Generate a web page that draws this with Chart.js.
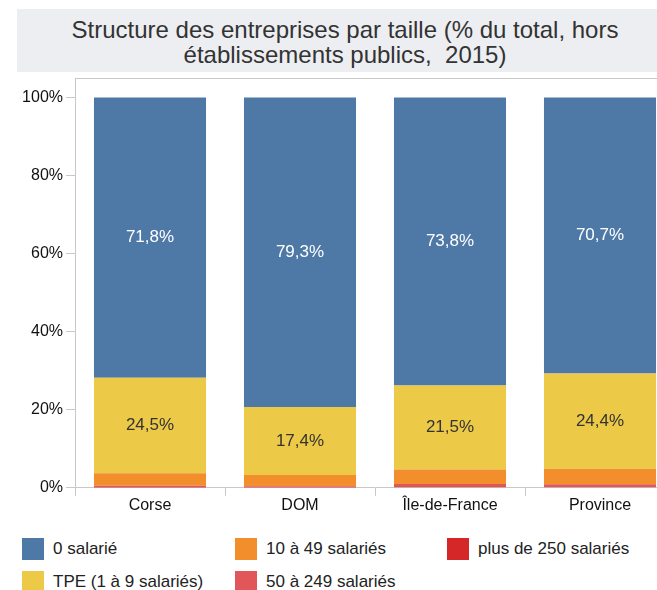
<!DOCTYPE html>
<html>
<head>
<meta charset="utf-8">
<script src="https://cdn.jsdelivr.net/npm/chart.js@4"></script>
<style>
  html, body { margin: 0; padding: 0; background: #fff; overflow: hidden; width: 657px; height: 590px; }
  body { position: relative; font-family: "Liberation Sans", Arial, sans-serif; }
  #title {
    position: absolute; left: 17px; top: 9px; width: 656px; height: 63px;
    background: #eceef1; color: #333; font-size: 24px; line-height: 25px;
    text-align: center; padding-top: 8px; box-sizing: border-box; white-space: pre;
  }
  #chart { position: absolute; left: 0; top: 0; }
  #legend { position: absolute; left: 22px; top: 538px; width: 660px; }
  .item { position: absolute; display: flex; align-items: center; font-size: 17px; color: #222; white-space: nowrap; }
  .box { width: 22px; height: 22px; margin-right: 9px; }
</style>
</head>
<body>
<div id="title">Structure des entreprises par taille (% du total, hors
établissements publics,  2015)</div>
<canvas id="chart" width="675" height="515"></canvas>
<div id="legend"></div>
<script>
// Données (% du total)
const categories = ['Corse', 'DOM', 'Île-de-France', 'Province'];
const zeroSalarie = [71.8, 79.3, 73.8, 70.7];
const tpe = [24.5, 17.4, 21.5, 24.4];
const de10a49 = [3.2, 2.9, 3.7, 4.0];
const de50a249 = [0.4, 0.3, 0.6, 0.7];
const plusDe250 = [0.1, 0.1, 0.4, 0.2];
const yTicks = [0, 20, 40, 60, 80, 100];

// stacked from the bottom up
const datasets = [
  { label: 'plus de 250 salariés', data: plusDe250, backgroundColor: '#d62728' },
  { label: '50 à 249 salariés', data: de50a249, backgroundColor: '#e15759' },
  { label: '10 à 49 salariés', data: de10a49, backgroundColor: '#f28e2b' },
  { label: 'TPE (1 à 9 salariés)', data: tpe, backgroundColor: '#edc948', showValue: true, valueColor: '#333' },
  { label: '0 salarié', data: zeroSalarie, backgroundColor: '#4e79a7', showValue: true, valueColor: '#fff' },
];

// value labels inside the two big segments
const valueLabels = {
  id: 'valueLabels',
  afterDatasetsDraw(chart) {
    const ctx = chart.ctx;
    ctx.save();
    ctx.font = '17px "Liberation Sans", Arial, sans-serif';
    ctx.textAlign = 'center';
    ctx.textBaseline = 'middle';
    chart.data.datasets.forEach((ds, i) => {
      if (!ds.showValue) return;
      chart.getDatasetMeta(i).data.forEach((bar, j) => {
        const p = bar.getCenterPoint();
        ctx.fillStyle = ds.valueColor;
        ctx.fillText(ds.data[j].toFixed(1).replace('.', ',') + '%', p.x, p.y);
      });
    });
    ctx.restore();
  }
};

// top frame line of the plot
const topLine = {
  id: 'topLine',
  afterDraw(chart) {
    const { ctx, chartArea } = chart;
    ctx.save();
    ctx.strokeStyle = '#c8c8c8';
    ctx.lineWidth = 1;
    ctx.beginPath();
    ctx.moveTo(chartArea.left, chartArea.top + 0.5);
    ctx.lineTo(chartArea.right, chartArea.top + 0.5);
    ctx.stroke();
    ctx.restore();
  }
};

const chart = new Chart(document.getElementById('chart'), {
  type: 'bar',
  data: { labels: categories, datasets: datasets },
  options: {
    responsive: false,
    animation: false,
    layout: { padding: { top: 78, left: 0, right: 0, bottom: 0 } },
    datasets: { bar: { categoryPercentage: 1, barPercentage: 0.747 } },
    plugins: { legend: { display: false }, tooltip: { enabled: false } },
    scales: {
      x: {
        stacked: true,
        offset: true,
        grid: { offset: true, drawOnChartArea: false, drawTicks: true, tickLength: 8, color: '#c8c8c8' },
        border: { color: '#c8c8c8' },
        ticks: { color: '#111', font: { size: 16, family: '"Liberation Sans", Arial, sans-serif' }, padding: 0 }
      },
      y: {
        stacked: true,
        min: 0,
        max: 105,
        afterBuildTicks(scale) {
          scale.ticks = yTicks.map(v => ({ value: v }));
        },
        afterFit(scale) { scale.width = 75; },
        grid: { drawOnChartArea: false, drawTicks: true, tickLength: 9, color: '#c8c8c8' },
        border: { color: '#c8c8c8' },
        ticks: {
          color: '#111',
          padding: 3,
          font: { size: 16, family: '"Liberation Sans", Arial, sans-serif' },
          callback: v => v + '%'
        }
      }
    }
  },
  plugins: [valueLabels, topLine]
});

// legend: 3 columns, filled column by column
const legendOrder = ['0 salarié', 'TPE (1 à 9 salariés)', '10 à 49 salariés', '50 à 249 salariés', 'plus de 250 salariés'];
const colX = [0, 213, 425];
const legend = document.getElementById('legend');
legendOrder.forEach((name, k) => {
  const ds = datasets.find(d => d.label === name);
  const el = document.createElement('div');
  el.className = 'item';
  el.style.left = colX[Math.floor(k / 2)] + 'px';
  el.style.top = (k % 2) * 33 + 'px';
  el.innerHTML = '<span class="box" style="background:' + ds.backgroundColor + '"></span>' + name;
  legend.appendChild(el);
});
</script>
</body>
</html>
